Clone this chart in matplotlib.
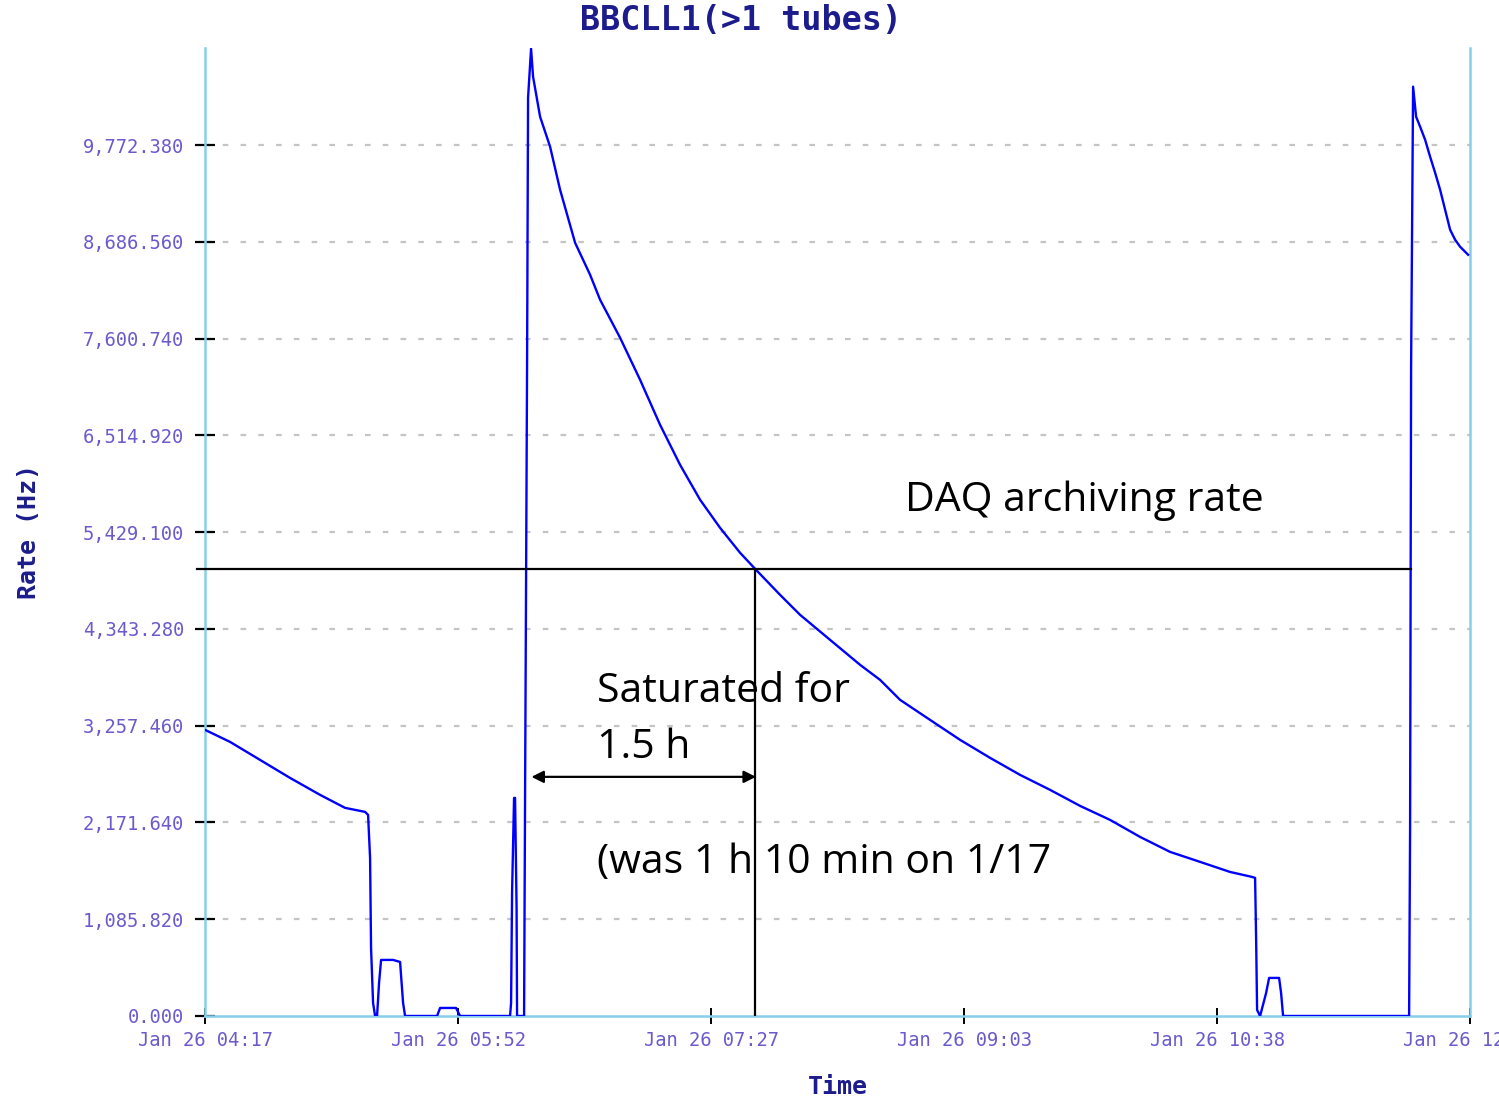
import matplotlib.pyplot as plt
import numpy as np

# time in minutes after Jan 26 04:17, rate in Hz
t_min = [0.0, 9.41, 20.70, 31.98, 43.27, 52.68, 60.21, 61.34, 62.09, 62.46,
         63.22, 63.97, 64.72, 65.47, 66.23, 70.74, 73.38, 74.51, 75.26, 87.30,
         88.43, 94.45, 95.96, 114.77, 115.15, 115.52, 116.27, 116.65, 117.22, 117.40,
         120.04, 120.41, 121.17, 121.54, 122.67, 123.42, 126.06, 129.82, 133.58, 139.23,
         144.87, 148.64, 156.16, 163.69, 171.21, 178.74, 186.27, 193.79, 201.32, 206.96,
         216.37, 223.89, 235.18, 246.47, 254.00, 261.52, 272.81, 284.10, 295.39, 306.68,
         317.97, 329.26, 340.54, 351.83, 363.12, 374.41, 385.70, 393.98, 395.11, 395.50,
         395.86, 396.99, 399.25, 400.38, 404.14, 404.89, 405.64, 453.06, 453.43, 453.81,
         454.56, 455.69, 457.20, 459.08, 460.96, 462.84, 464.72, 466.60, 468.49, 470.37,
         472.25, 475.26]
rate_hz = [3210, 3075, 2873, 2671, 2481, 2335, 2290, 2256, 1773, 763,
           146, 0, 0, 370, 629, 629, 606, 146, 0, 0,
           90, 90, 0, 0, 146, 1381, 2447, 2447, 1212, 0,
           0, 2447, 7329, 10304, 10854, 10539, 10090, 9754, 9271, 8676,
           8317, 8036, 7610, 7138, 6633, 6184, 5792, 5477, 5197, 5017,
           4725, 4501, 4220, 3940, 3771, 3547, 3322, 3098, 2896, 2705,
           2537, 2357, 2200, 2009, 1841, 1729, 1616, 1560, 1549, 853,
           67, 0, 258, 427, 427, 258, 0, 0, 2088, 7284,
           10427, 10090, 9978, 9832, 9641, 9462, 9271, 9047, 8822, 8710,
           8631, 8541]

y_ticks = [1085.82 * k for k in range(10)]
x_ticks = [0, 95.2, 190.4, 285.6, 380.8, 476]
x_labels = ['Jan 26 04:17', 'Jan 26 05:52', 'Jan 26 07:27',
            'Jan 26 09:03', 'Jan 26 10:38', 'Jan 26 12:13']

daq_rate = 5017
sat_end = 206.96
arrow_x = [122.8, 207.3]
arrow_y = 2683

tick_col = '#6a5acd'
navy = '#1c1c8c'
sky = '#87ceeb'

fig = plt.figure(figsize=(14.99, 10.98), dpi=100)
ax = fig.add_axes([0.1368, 0.0747, 0.9807 - 0.1368, 0.9563 - 0.0747])

ax.plot(t_min, rate_hz, color='#0000ff', lw=1.7, zorder=3)

ax.set_xlim(0, 476)
ax.set_ylim(0, 10861)

for y in y_ticks[1:]:
    ax.axhline(y, color='#c4c4c4', lw=1.6, dashes=(2.5, 5.5), zorder=1)

ax.spines['top'].set_visible(False)
for s in ['left', 'right', 'bottom']:
    ax.spines[s].set_color(sky)
    ax.spines[s].set_linewidth(1.8)

ax.set_yticks(y_ticks)
ax.set_yticklabels(['{:,.3f}'.format(v) for v in y_ticks])
ax.set_xticks(x_ticks)
ax.set_xticklabels(x_labels)
ax.tick_params(axis='y', direction='inout', length=14, width=1.6, color='black',
               labelcolor=tick_col, pad=8, labelsize=13.5)
ax.tick_params(axis='x', direction='inout', length=12, width=1.4, color='black',
               labelcolor=tick_col, pad=5, labelsize=13.5)
for lab in ax.get_xticklabels() + ax.get_yticklabels():
    lab.set_family('DejaVu Sans Mono')

fig.text(741 / 1499, 1 - 21 / 1098, 'BBCLL1(>1 tubes)', family='DejaVu Sans Mono',
         fontweight='bold', fontsize=24, color=navy, ha='center', va='center')
ax.set_ylabel('Rate (Hz)', family='DejaVu Sans Mono', fontweight='bold',
              fontsize=18, color=navy, labelpad=30)
ax.set_xlabel('Time', family='DejaVu Sans Mono', fontweight='bold',
              fontsize=18, color=navy, labelpad=18)

# annotations
ax.plot([-3.0, 453.8], [daq_rate, daq_rate], color='black', lw=1.6, clip_on=False, zorder=4)
ax.plot([sat_end, sat_end], [0, daq_rate], color='black', lw=1.6, zorder=4)
ax.annotate('', xy=(arrow_x[0], arrow_y), xytext=(arrow_x[1], arrow_y),
            arrowprops=dict(arrowstyle='<|-|>', color='black', lw=1.6, mutation_scale=18,
                            shrinkA=0, shrinkB=0))
note_font = dict(family='Open Sans', fontsize=29.5, color='black')
ax.text(263.5, 5780, 'DAQ archiving rate', ha='left', va='center', **note_font)
ax.text(147.5, 3640, 'Saturated for', ha='left', va='center', **note_font)
ax.text(147.5, 3010, '1.5 h', ha='left', va='center', **note_font)
ax.text(147.5, 1720, '(was 1 h 10 min on 1/17', ha='left', va='center', **note_font)

plt.savefig('out.png', dpi=100)
